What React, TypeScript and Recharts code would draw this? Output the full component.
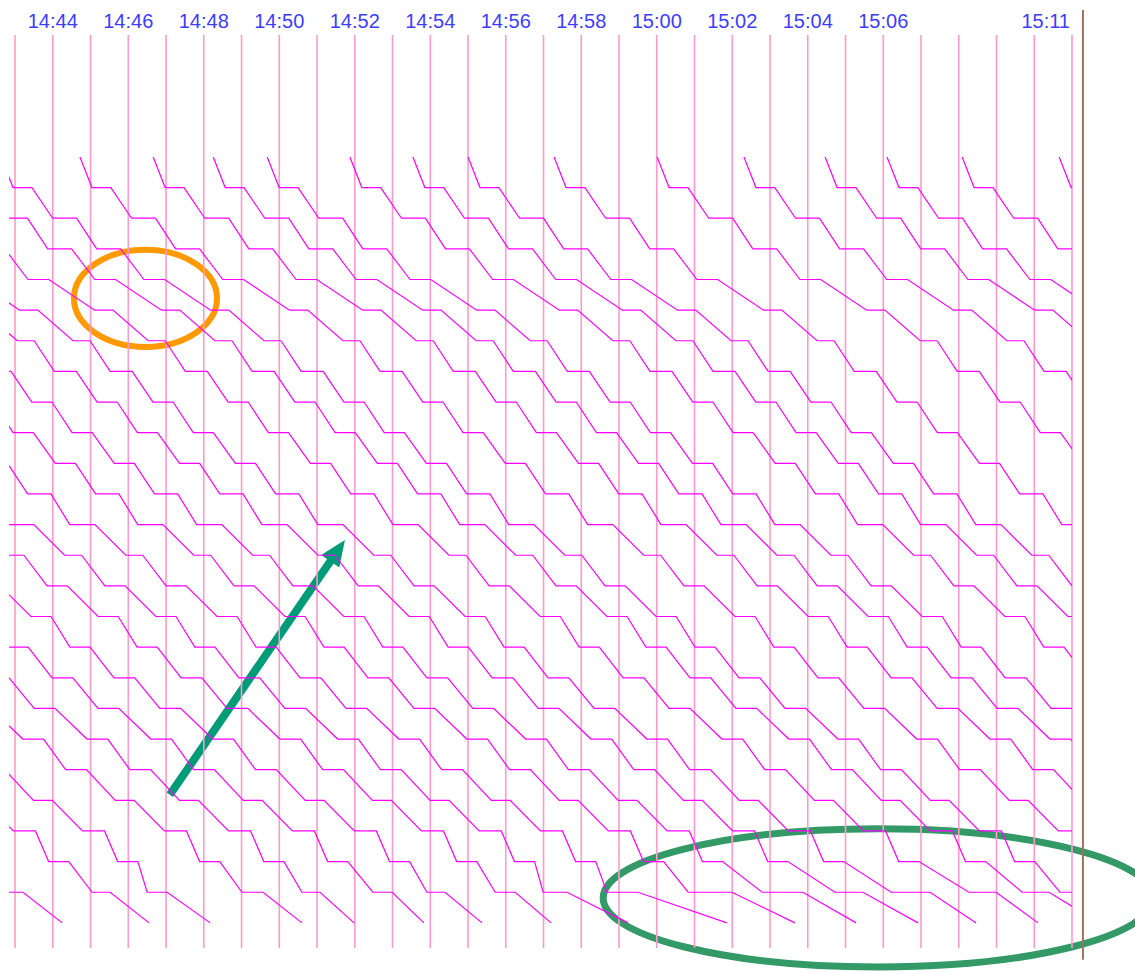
import {
  LineChart,
  Line,
  XAxis,
  YAxis,
  ReferenceArea,
  ReferenceLine,
} from "recharts";

// Times are minutes after 14:00. Stations are numbered 0 (top) .. 25 (bottom).

// running time in seconds from the previous station, for stations 1..25
const runSeconds = [
  19, 33, 32, 37, 73, 56, 32, 33, 32, 35, 32, 30, 49, 37, 49, 30, 38, 40, 51,
  35, 46, 48, 21, 40, 80,
];

// dwell time in seconds at stations 1..24
const dwellSeconds = [
  30, 38, 38, 33, 29, 27, 35, 32, 32, 32, 37, 40, 27, 32, 32, 32, 33, 33, 33,
  33, 30, 35, 32, 48,
];

// departure from station 0 of every train
const departures = [
  14.66, 17.04, 18.87, 21.04, 22.74, 24.43, 26.07, 27.85, 29.38, 31.0, 32.8,
  34.36, 36.09, 37.57, 39.56, 41.33, 42.63, 44.72, 46.66, 48.25, 49.68, 51.87,
  53.54, 55.0, 57.28, 60.01, 62.31, 64.46, 66.1, 68.09, 70.66,
];

// trains that finish inside the window: arrival / departure at station 24, arrival at 25
const lastArrive = [
  42.68, 45.04, 46.5, 49.01, 50.6, 52.48, 53.91, 55.72, 56.99, 58.68, 60.83,
  62.79, 64.72, 66.21, 68.27, 69.68,
];
const lastDepart = [
  43.21, 45.52, 47.03, 49.57, 51.08, 52.99, 54.39, 56.25, 57.62, 59.5, 61.99,
  63.87, 65.46, 67.24, 68.99, 70.39,
];
const finalArrive = [
  44.25, 46.55, 48.17, 50.6, 51.98, 53.83, 55.37, 57.2, 59.24, 61.86, 63.66,
  65.28, 66.92, 68.46, 70.1, 71.72,
];

const gridMinutes = Array.from({ length: 29 }, (_, i) => 43 + i);
const labelledMinutes = [44, 46, 48, 50, 52, 54, 56, 58, 60, 62, 64, 66, 71];

const fmt = (m: number) => {
  const h = 14 + Math.floor(m / 60);
  const mm = m % 60;
  return `${h}:${String(mm).padStart(2, "0")}`;
};

type Pt = { t: number; s: number };

function buildTrain(i: number): Pt[] {
  const pts: Pt[] = [{ t: departures[i], s: 0 }];
  let t = departures[i];
  for (let k = 1; k <= 24; k++) {
    let arr = t + runSeconds[k - 1] / 60;
    let dep = arr + dwellSeconds[k - 1] / 60;
    if (k === 24 && i < lastArrive.length) {
      arr = Math.max(lastArrive[i], t + 0.15);
      dep = Math.max(lastDepart[i], arr + 0.15);
    }
    pts.push({ t: arr, s: k }, { t: dep, s: k });
    t = dep;
  }
  const end = i < finalArrive.length ? finalArrive[i] : t + runSeconds[24] / 60;
  pts.push({ t: end, s: 25 });
  return pts;
}

const trains = departures.map((_, i) => buildTrain(i));

const renderTick = (props: any) => {
  const { x, payload } = props;
  const m = payload.value as number;
  if (!labelledMinutes.includes(m)) return <g />;
  const last = m === 71;
  return (
    <text
      x={last ? x - 2 : x}
      y={28}
      textAnchor={last ? "end" : "middle"}
      fill="#3d3dff"
      fontSize={20}
      fontFamily="'Liberation Sans', Arial, sans-serif"
    >
      {fmt(m)}
    </text>
  );
};

const ellipseShape = (color: string, width: number) => (p: any) => (
  <ellipse
    cx={p.x + p.width / 2}
    cy={p.y + p.height / 2}
    rx={Math.abs(p.width) / 2}
    ry={Math.abs(p.height) / 2}
    fill="none"
    stroke={color}
    strokeWidth={width}
  />
);

const arrowShape = (p: any) => {
  const x1 = p.x;
  const y1 = p.y + p.height;
  const x2 = p.x + p.width;
  const y2 = p.y;
  const len = Math.hypot(x2 - x1, y2 - y1);
  const ux = (x2 - x1) / len;
  const uy = (y2 - y1) / len;
  const head = 26;
  const half = 11;
  const bx = x2 - ux * head;
  const by = y2 - uy * head;
  return (
    <g>
      <line x1={x1} y1={y1} x2={bx + ux * 2} y2={by + uy * 2} stroke="#009b77" strokeWidth={8} />
      <polygon
        points={`${x2},${y2} ${bx - uy * half},${by + ux * half} ${bx + uy * half},${by - ux * half}`}
        fill="#009b77"
      />
    </g>
  );
};

export default function App() {
  return (
    <div style={{ position: "absolute", left: 0, top: 0, background: "#fff" }}>
      <LineChart
        width={1135}
        height={974}
        margin={{ top: 0, right: 63, bottom: 26, left: 9 }}
      >
        <XAxis
          type="number"
          dataKey="t"
          orientation="top"
          domain={[42.84, 71]}
          allowDataOverflow
          ticks={gridMinutes}
          interval={0}
          height={35}
          axisLine={false}
          tickLine={false}
          tick={renderTick}
        />
        <YAxis type="number" dataKey="s" domain={[-3.98, 25.82]} reversed hide allowDataOverflow />
        {gridMinutes.map((m) => (
          <ReferenceLine key={`g${m}`} x={m} stroke="#ff99cc" strokeWidth={1.6} />
        ))}
        {trains.map((data, i) => (
          <Line
            key={i}
            data={data}
            dataKey="s"
            type="linear"
            stroke="#ff00ff"
            strokeWidth={1.2}
            dot={false}
            activeDot={false}
            isAnimationActive={false}
          />
        ))}
        <ReferenceLine
          segment={[
            { x: 71.29, y: -4.8 },
            { x: 71.29, y: 26.2 },
          ]}
          stroke="#a0725a"
          strokeWidth={2}
          ifOverflow="visible"
        />
        <ReferenceArea
          x1={44.56}
          x2={48.35}
          y1={3.03}
          y2={6.2}
          ifOverflow="visible"
          shape={ellipseShape("#ff9900", 6)}
        />
        <ReferenceArea
          x1={58.58}
          x2={73.15}
          y1={21.93}
          y2={26.44}
          ifOverflow="visible"
          shape={ellipseShape("#339966", 7)}
        />
        <ReferenceArea
          x1={47.1}
          x2={51.74}
          y1={12.5}
          y2={20.82}
          ifOverflow="visible"
          shape={arrowShape}
        />
      </LineChart>
    </div>
  );
}
